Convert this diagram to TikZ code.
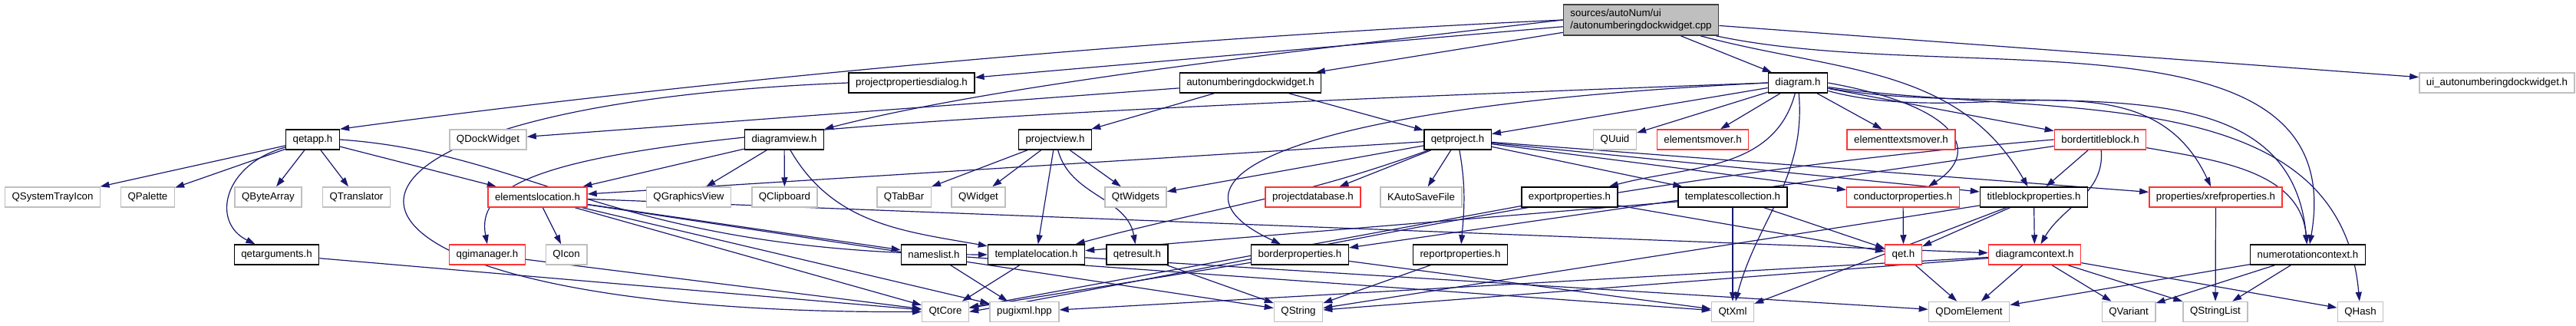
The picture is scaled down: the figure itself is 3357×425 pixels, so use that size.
\documentclass[tikz,border=0pt]{standalone}
\usepackage{fontspec}
\setmainfont{Liberation Sans}
\usetikzlibrary{arrows.meta}
\definecolor{ink}{HTML}{191970}
\definecolor{redline}{HTML}{FF3333}
\definecolor{grayline}{HTML}{BFBFBF}
\definecolor{darkline}{HTML}{404040}
\pgfdeclarelayer{back}
\pgfsetlayers{back,main}

\begin{document}
\begin{tikzpicture}[x=1pt, y=-1pt, font=\fontsize{13.3}{16}\selectfont,
  every node/.style={rectangle, fill=white, line width=1.5pt, inner xsep=9pt, inner ysep=0pt, minimum height=26pt},
  doc/.style={draw=black},
  trunc/.style={draw=redline},
  ext/.style={draw=grayline},
  top/.style={draw=darkline, fill=grayline, align=left, minimum height=40pt},
  dep/.style={every edge/.style={draw=ink, line width=1.2pt, -{Triangle[length=12pt,width=8pt]}}},
  link/.style={draw=ink, line width=1.2pt, -{Triangle[length=12pt,width=8pt]}}]
\useasboundingbox (0,0) rectangle (3357,425);
\node[top] (main) at (2138.5,26) {sources/autoNum/ui\\/autonumberingdockwidget.cpp};
\node[doc] (ppd) at (1188,108) {projectpropertiesdialog.h};
\node[doc] (adw) at (1629.5,108) {autonumberingdockwidget.h};
\node[doc] (diagram) at (2343,108) {diagram.h};
\node[ext] (ui) at (3254,108) {ui\_autonumberingdockwidget.h};
\node[doc] (qetapp) at (407.5,182) {qetapp.h};
\node[ext] (qdock) at (636,182) {QDockWidget};
\node[doc] (dview) at (1022,182) {diagramview.h};
\node[doc] (pview) at (1375,182) {projectview.h};
\node[doc] (qetproj) at (1899.5,182) {qetproject.h};
\node[ext] (quuid) at (2104.5,182) {QUuid};
\node[trunc] (emover) at (2219,182) {elementsmover.h};
\node[trunc] (etmover) at (2477.5,182) {elementtextsmover.h};
\node[trunc] (btb) at (2737,182) {bordertitleblock.h};
\node[ext] (systray) at (68.5,257) {QSystemTrayIcon};
\node[ext] (palette) at (192.5,257) {QPalette};
\node[ext] (bytearray) at (349.5,257) {QByteArray};
\node[ext] (translator) at (464.5,257) {QTranslator};
\node[trunc] (elemloc) at (700.5,257) {elementslocation.h};
\node[ext] (gview) at (897.5,257) {QGraphicsView};
\node[ext] (clipboard) at (1022.5,257) {QClipboard};
\node[ext] (tabbar) at (1178,257) {QTabBar};
\node[ext] (qwidget) at (1275,257) {QWidget};
\node[ext] (qtwidgets) at (1480,257) {QtWidgets};
\node[trunc] (projdb) at (1711,257) {projectdatabase.h};
\node[ext] (autosave) at (1852,257) {KAutoSaveFile};
\node[doc] (exportprop) at (2045.5,257) {exportproperties.h};
\node[doc] (tmplcoll) at (2258,257) {templatescollection.h};
\node[trunc] (condprop) at (2480,257) {conductorproperties.h};
\node[doc] (tbprop) at (2650.5,257) {titleblockproperties.h};
\node[trunc] (xrefprop) at (2887.5,257) {properties/xrefproperties.h};
\node[doc] (qetargs) at (360.5,332) {qetarguments.h};
\node[trunc] (qgiman) at (635,332) {qgimanager.h};
\node[ext] (qicon) at (738,332) {QIcon};
\node[doc] (nameslist) at (1217,332) {nameslist.h};
\node[doc] (tmplloc) at (1350.5,332) {templatelocation.h};
\node[doc] (qetresult) at (1482,332) {qetresult.h};
\node[doc] (borderprop) at (1694,332) {borderproperties.h};
\node[doc] (reportprop) at (1903,332) {reportproperties.h};
\node[trunc] (qet) at (2480.5,332) {qet.h};
\node[trunc] (diagctx) at (2651.5,332) {diagramcontext.h};
\node[doc] (numctx) at (3007.5,332) {numerotationcontext.h};
\node[ext] (qtcore) at (1232,406.5) {QtCore};
\node[ext] (pugixml) at (1335,406.5) {pugixml.hpp};
\node[ext] (qstring) at (1692,406.5) {QString};
\node[ext] (qtxml) at (2258,406.5) {QtXml};
\node[ext] (qdom) at (2566,406.5) {QDomElement};
\node[ext] (qvariant) at (2774,406.5) {QVariant};
\node[ext] (qstringlist) at (2887,406.5) {QStringList};
\node[ext] (qhash) at (3076,406.5) {QHash};
\begin{pgfonlayer}{back}
\path[dep] (main) edge (adw) edge (ui) edge (ppd) edge (diagram)
  edge[out=-15,in=120] (tbprop) edge[out=-12,in=80] (numctx);
\path[dep] (adw) edge (qdock) edge (pview) edge (qetproj);
\path[dep] (qetapp) edge (systray) edge (palette) edge (bytearray) edge (translator) edge (elemloc);
\path[dep] (dview) edge (elemloc) edge (gview) edge (clipboard) edge[out=-60,in=170] (tmplloc);
\path[dep] (pview) edge (tabbar) edge (qwidget) edge (qtwidgets) edge (tmplloc) edge[out=-75,in=100] (qetresult);
\path[dep] (qetproj) edge (elemloc) edge (qtwidgets) edge (projdb) edge (autosave)
  edge[out=-80,in=85] (reportprop) edge (tmplcoll) edge (condprop) edge (tbprop) edge (xrefprop)
  edge[out=200,in=15] (tmplloc);
\path[dep] (diagram) edge (qetproj) edge (quuid) edge (emover) edge (etmover)
  edge[out=-105,in=15] (exportprop) edge[out=-85,in=75] (qtxml)
  edge (btb) edge[out=-15,in=115] (xrefprop) edge[out=-10,in=95] (numctx) edge[out=-8,in=95] (qhash);
\path[dep] (btb) edge (tbprop) edge[out=-85,in=60] (diagctx) edge[out=-10,in=95] (numctx) edge (borderprop);
\path[dep] (elemloc) edge (qicon) edge (nameslist) edge (qtcore) edge (pugixml) edge (diagctx) edge (qstring);
\path[dep] (qgiman) edge (qtcore);
\path[dep] (qetargs) edge (qtcore);
\path[dep] (nameslist) edge (pugixml) edge (qtxml);
\path[dep] (tmplloc) edge (qtcore) edge (qdom);
\path[dep] (qetresult) edge (qstring);
\path[dep] (borderprop) edge (qtcore) edge (qtxml);
\path[dep] (reportprop) edge (qstring);
\path[dep] (exportprop) edge (qtcore) edge (qet);
\path[dep] (tmplcoll) edge (tmplloc) edge (qtxml) edge (qet);
\path[dep] (condprop) edge (qet);
\path[dep] (tbprop) edge (qet) edge (diagctx) edge (qtxml) edge (qstring);
\path[dep] (xrefprop) edge (qstringlist);
\path[dep] (diagctx) edge (qdom) edge (qvariant) edge (qstringlist) edge (qhash) edge (pugixml) edge (qstring);
\path[dep] (numctx) edge (qdom) edge (qvariant) edge (qstringlist);
\path[dep] (qet) edge (qdom);
\draw[link] (main.west) .. controls (1400,55) and (800,120) .. (qetapp.north east);
\draw[link] (main.west) .. controls (1700,65) and (1300,110) .. (dview.north east);
\draw[link] (qetapp) .. controls (290,215) and (275,290) .. ([xshift=-28]qetargs.north);
\draw[link] (qetapp.east) .. controls (700,200) and (800,330) .. (tmplloc.west);
\draw[link] (diagram.east) .. controls (2560,140) and (2580,200) .. ([xshift=33]condprop.north);
\draw[link] (ppd.west) .. controls (300,140) and (340,410) .. (qtcore.west);
\draw[link] (diagram.west) .. controls (900,160) and (610,190) .. (qgiman.north);
\draw[link] (diagram.west) .. controls (1650,140) and (1500,240) .. ([xshift=-25]borderprop.north);
\draw[link] (btb.west) .. controls (2100,230) and (1700,330) .. (qtcore.east);
\end{pgfonlayer}
\end{tikzpicture}
\end{document}
